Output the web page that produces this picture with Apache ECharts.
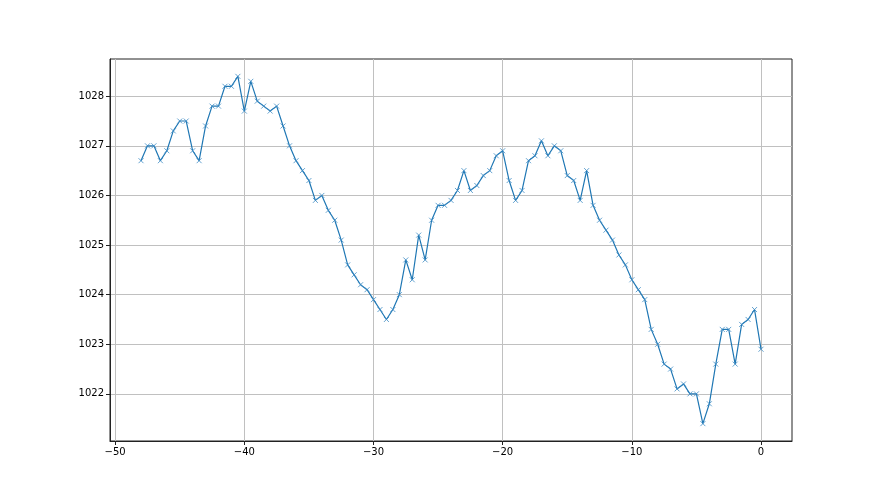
<!DOCTYPE html>
<html>
<head>
<meta charset="utf-8">
<script src="https://cdn.jsdelivr.net/npm/echarts@6/dist/echarts.min.js"></script>
<style>
  html, body { margin: 0; padding: 0; background: #fff; }
  #chart { width: 880px; height: 495px; }
</style>
</head>
<body>
<div id="chart"></div>
<script>
// 时间（x）与气压（y）
const xValues = [
  -48, -47.5, -47, -46.5, -46, -45.5, -45, -44.5, -44, -43.5, -43, -42.5, -42, -41.5, -41, -40.5, -40,
  -39.5, -39, -38.5, -38, -37.5, -37, -36.5, -36, -35.5, -35, -34.5, -34, -33.5, -33, -32.5, -32, -31.5, -31, -30.5, -30,
  -29.5, -29, -28.5, -28, -27.5, -27, -26.5, -26, -25.5, -25, -24.5, -24, -23.5, -23, -22.5, -22, -21.5, -21, -20.5, -20,
  -19.5, -19, -18.5, -18, -17.5, -17, -16.5, -16, -15.5, -15, -14.5, -14, -13.5, -13, -12.5, -12, -11.5, -11, -10.5, -10,
  -9.5, -9, -8.5, -8, -7.5, -7, -6.5, -6, -5.5, -5, -4.5, -4, -3.5, -3, -2.5, -2, -1.5, -1, -0.5, 0
]
const pressure = [
  1026.7, 1027.0, 1027.0, 1026.7, 1026.9, 1027.3, 1027.5, 1027.5, 1026.9, 1026.7, 1027.4, 1027.8, 1027.8, 1028.2, 1028.2, 1028.4, 1027.7,
  1028.3, 1027.9, 1027.8, 1027.7, 1027.8, 1027.4, 1027.0, 1026.7, 1026.5, 1026.3, 1025.9, 1026.0, 1025.7, 1025.5, 1025.1, 1024.6, 1024.4, 1024.2, 1024.1, 1023.9,
  1023.7, 1023.5, 1023.7, 1024.0, 1024.7, 1024.3, 1025.2, 1024.7, 1025.5, 1025.8, 1025.8, 1025.9, 1026.1, 1026.5, 1026.1, 1026.2, 1026.4, 1026.5, 1026.8, 1026.9,
  1026.3, 1025.9, 1026.1, 1026.7, 1026.8, 1027.1, 1026.8, 1027.0, 1026.9, 1026.4, 1026.3, 1025.9, 1026.5, 1025.8, 1025.5, 1025.3, 1025.1, 1024.8, 1024.6, 1024.3,
  1024.1, 1023.9, 1023.3, 1023.0, 1022.6, 1022.5, 1022.1, 1022.2, 1022.0, 1022.0, 1021.4, 1021.8, 1022.6, 1023.3, 1023.3, 1022.6, 1023.4, 1023.5, 1023.7, 1022.9
]
const xTicks = [-50, -40, -30, -20, -10, 0]
const yTicks = [1022, 1023, 1024, 1025, 1026, 1027, 1028]

let chart = echarts.init(document.getElementById('chart'))
chart.setOption({
  animation: false,
  grid: {
    left: 110,
    right: 88,
    top: 59,
    bottom: 54,
    show: true,
    borderColor: '#222',
    borderWidth: 1,
    backgroundColor: 'transparent'
  },
  xAxis: {
    type: 'value',
    min: -50.4,
    max: 2.4,
    axisLine: { show: true, onZero: false, lineStyle: { color: '#222', width: 1 } },
    axisTick: {
      show: true,
      inside: false,
      length: 4,
      customValues: xTicks,
      lineStyle: { color: '#222' }
    },
    axisLabel: {
      customValues: xTicks,
      color: '#000',
      fontSize: 10,
      fontFamily: 'DejaVu Sans',
      margin: 6,
      formatter: v => String(v).replace('-', '\u2212')
    },
    splitLine: { show: true, lineStyle: { color: '#c0c0c0', width: 1 } }
  },
  yAxis: {
    type: 'value',
    min: 1021.05,
    max: 1028.75,
    axisLine: { show: true, onZero: false, lineStyle: { color: '#222', width: 1 } },
    axisTick: {
      show: true,
      inside: false,
      length: 4,
      customValues: yTicks,
      lineStyle: { color: '#222' }
    },
    axisLabel: {
      customValues: yTicks,
      color: '#000',
      fontSize: 10,
      fontFamily: 'DejaVu Sans',
      margin: 6,
      formatter: v => String(v)
    },
    splitLine: { show: true, lineStyle: { color: '#c0c0c0', width: 1 } }
  },
  series: [
    {
      type: 'line',
      data: xValues.map((x, i) => [x, pressure[i]]),
      // matplotlib 的 'x' 标记
      symbol: 'path://M0,0L10,10M10,0L0,10',
      symbolSize: 5,
      showSymbol: true,
      lineStyle: { color: '#1f77b4', width: 1.2 },
      itemStyle: { color: 'rgba(0,0,0,0)', borderColor: '#3d8cc4', borderWidth: 0.8 }
    }
  ]
})
</script>
</body>
</html>
